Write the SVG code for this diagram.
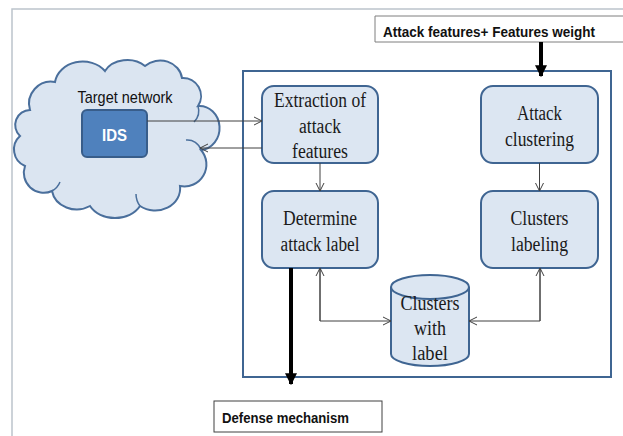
<svg xmlns="http://www.w3.org/2000/svg" width="623" height="436" viewBox="0 0 623 436">
<style>
.box{fill:#dce6f2;stroke:#3f6592;stroke-width:2}
.serif{font-family:"Liberation Serif","Times New Roman",serif;font-size:20px;fill:#1a1a1a;text-anchor:middle}
.sans{font-family:"Liberation Sans",Arial,sans-serif;fill:#111}
.thin{fill:none;stroke:#404040;stroke-width:1}
.thick{fill:none;stroke:#000;stroke-width:4}
</style>
<defs>
<marker id="open" viewBox="0 0 10 10" refX="9" refY="5" markerWidth="10" markerHeight="10" markerUnits="userSpaceOnUse" orient="auto">
<path d="M1,1 L9,5 L1,9" fill="none" stroke="#404040" stroke-width="1"/>
</marker>
<marker id="bold" viewBox="0 0 10 10" refX="9" refY="5" markerWidth="12" markerHeight="12" markerUnits="userSpaceOnUse" orient="auto">
<path d="M0,0 L10,5 L0,10 Z" fill="#000"/>
</marker>
</defs>
<rect width="623" height="436" fill="#fff"/>
<path d="M12,436 V9 H623" fill="none" stroke="#bcc4cc" stroke-width="1.5"/>

<g id="main-frame"><rect x="243" y="71" width="368" height="306" fill="none" stroke="#3f6592" stroke-width="2"/></g>

<g id="target-network">
<path d="M30,110 A22,22 0 0 1 55,82 A28,24 0 0 1 105,71 A25,20 0 0 1 145,66 A22,20 0 0 1 182,78 A18,18 0 0 1 198,106 A20,22 0 0 1 201,150 A22,22 0 0 1 180,186 A25,22 0 0 1 140,206 A28,22 0 0 1 90,206 A25,22 0 0 1 52,191 A20,20 0 0 1 25,166 A18,18 0 0 1 20,136 A15,15 0 0 1 30,110 Z" fill="#dbe5f1" stroke="#4a6f9c" stroke-width="2"/>
<path d="M198,106 A16,16 0 0 1 194,122 M201,150 A14,14 0 0 0 186,140 M140,206 A20,20 0 0 1 136,194 M52,191 A18,18 0 0 0 60,182" fill="none" stroke="#4a6f9c" stroke-width="1.5"/>
<text x="125" y="103" class="sans" font-size="17" text-anchor="middle" textLength="95" lengthAdjust="spacingAndGlyphs">Target network</text>
</g>
<g id="ids">
<rect x="82" y="110" width="65" height="47" rx="5" fill="#4f81bd" stroke="#385d8a" stroke-width="2"/>
<text x="114.5" y="141" class="sans" font-size="17" font-weight="bold" style="fill:#fff" text-anchor="middle" textLength="25" lengthAdjust="spacingAndGlyphs">IDS</text>
</g>

<g id="extraction">
<rect class="box" x="262" y="86" width="116" height="77" rx="12"/>
<text class="serif" x="320" y="107" textLength="92" lengthAdjust="spacingAndGlyphs">Extraction of</text>
<text class="serif" x="320" y="133" textLength="42" lengthAdjust="spacingAndGlyphs">attack</text>
<text class="serif" x="320" y="158" textLength="56" lengthAdjust="spacingAndGlyphs">features</text>
</g>
<g id="attack-clustering">
<rect class="box" x="481" y="86" width="117" height="77" rx="12"/>
<text class="serif" x="539.5" y="120" textLength="45" lengthAdjust="spacingAndGlyphs">Attack</text>
<text class="serif" x="539.5" y="146" textLength="69" lengthAdjust="spacingAndGlyphs">clustering</text>
</g>
<g id="determine">
<rect class="box" x="262" y="191" width="116" height="77" rx="12"/>
<text class="serif" x="320" y="225" textLength="74" lengthAdjust="spacingAndGlyphs">Determine</text>
<text class="serif" x="320" y="251" textLength="79" lengthAdjust="spacingAndGlyphs">attack label</text>
</g>
<g id="clusters-labeling">
<rect class="box" x="481" y="191" width="117" height="77" rx="12"/>
<text class="serif" x="539.5" y="225" textLength="58" lengthAdjust="spacingAndGlyphs">Clusters</text>
<text class="serif" x="539.5" y="251" textLength="57" lengthAdjust="spacingAndGlyphs">labeling</text>
</g>
<g id="clusters-with-label">
<path d="M391,287 V354 A39,12 0 0 0 469,354 V287" fill="#dce6f2" stroke="#3f6592" stroke-width="2"/>
<ellipse cx="430" cy="287" rx="39" ry="12" fill="#dce6f2" stroke="#3f6592" stroke-width="2"/>
<text class="serif" x="430" y="310" textLength="59" lengthAdjust="spacingAndGlyphs">Clusters</text>
<text class="serif" x="430" y="335" textLength="32" lengthAdjust="spacingAndGlyphs">with</text>
<text class="serif" x="430" y="360" textLength="36" lengthAdjust="spacingAndGlyphs">label</text>
</g>
<g id="features-input">
<path d="M623,16 H375 V42 H623" fill="#fff" stroke="#7f7f7f" stroke-width="1"/>
<text class="sans" x="383" y="37" font-size="15.5" font-weight="bold" textLength="212" lengthAdjust="spacingAndGlyphs">Attack features+ Features weight</text>
</g>
<g id="defense">
<rect x="214" y="401" width="168" height="31" fill="#fff" stroke="#404040" stroke-width="1"/>
<text class="sans" x="222" y="423" font-size="15.5" font-weight="bold" textLength="127" lengthAdjust="spacingAndGlyphs">Defense mechanism</text>
</g>

<g id="connectors">
<line class="thin" x1="147" y1="121" x2="262" y2="121" marker-end="url(#open)"/>
<line class="thin" x1="262" y1="148" x2="200" y2="148" marker-end="url(#open)"/>
<line class="thin" x1="320" y1="163" x2="320" y2="191" marker-end="url(#open)"/>
<line class="thin" x1="539.5" y1="163" x2="539.5" y2="191" marker-end="url(#open)"/>
<path class="thin" d="M320,268 V321 H391" marker-end="url(#open)"/>
<path class="thin" d="M320,321 V268" marker-end="url(#open)"/>
<path class="thin" d="M540,268 V321 H469" marker-end="url(#open)"/>
<path class="thin" d="M540,321 V268" marker-end="url(#open)"/>
<line class="thick" x1="541" y1="42" x2="541" y2="76" marker-end="url(#bold)"/>
<line class="thick" x1="291" y1="268" x2="291" y2="384" marker-end="url(#bold)"/>
</g>
</svg>
